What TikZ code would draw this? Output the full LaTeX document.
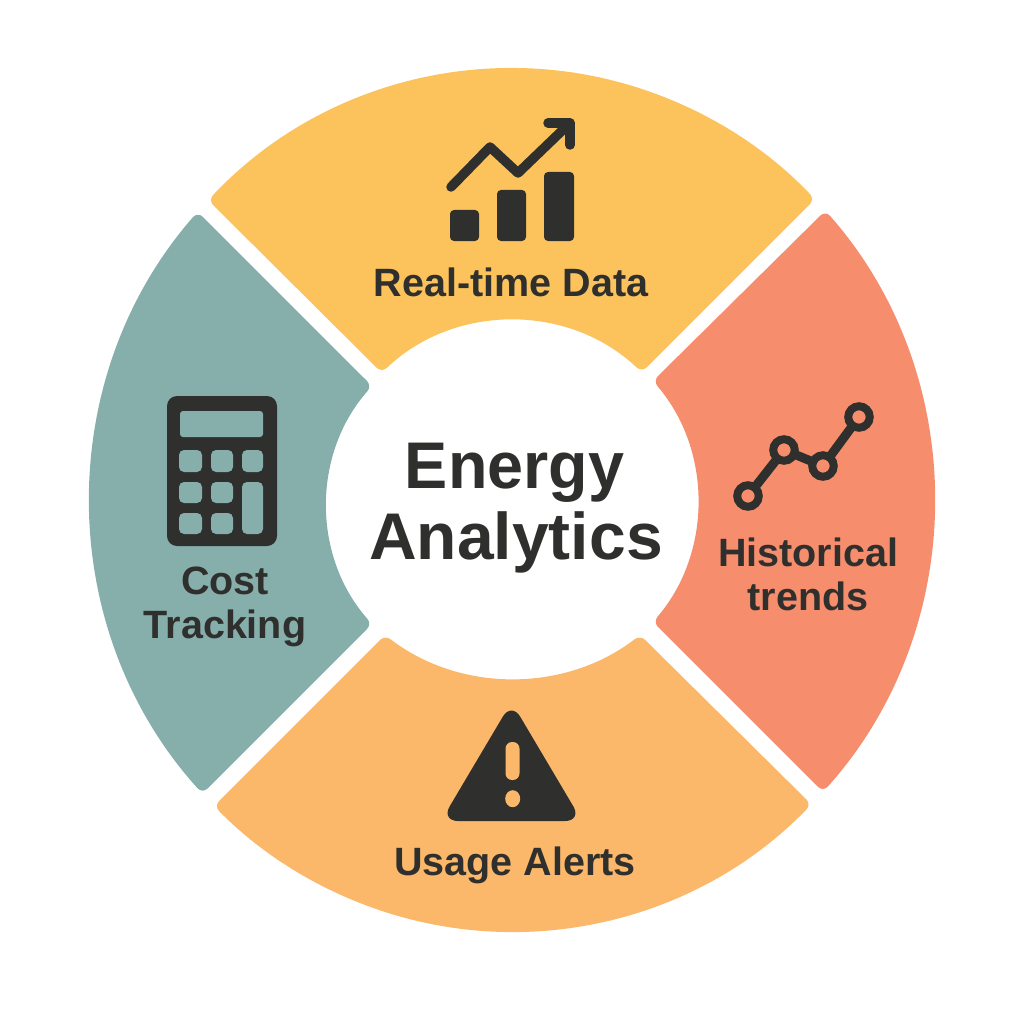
\documentclass[tikz,border=0pt]{standalone}
\usepackage{fontspec}
\setmainfont{Liberation Sans}
\definecolor{secTop}{RGB}{252,195,92}
\definecolor{secRight}{RGB}{246,141,109}
\definecolor{secBottom}{RGB}{251,184,107}
\definecolor{secLeft}{RGB}{134,175,172}
\definecolor{ink}{RGB}{47,47,45}
\tikzset{
  sector/.style={fill=#1,draw=none,rounded corners=7pt},
  titletext/.style={text=ink,font=\fontsize{66}{70}\selectfont\bfseries,align=center,inner sep=0pt},
  labeltext/.style={text=ink,font=\fontsize{39.5}{44}\selectfont\bfseries,align=center,inner sep=0pt},
  icon/.style={fill=ink,draw=none},
}
\begin{document}
\begin{tikzpicture}[x=1pt,y=-1pt]
\useasboundingbox (0,0) rectangle (1024,1024);
% sectors
\fill[sector=secTop] (208.2,200.2) arc[start angle=-136.05,end angle=-44.14,x radius=422,y radius=432]
  -- (641.7,372.3) arc[start angle=-46.5,end angle=-133.7,radius=188.5] -- cycle;
\fill[sector=secRight] (825.4,210.6) arc[start angle=-42.05,end angle=42.52,x radius=422,y radius=432]
  -- (653,622) arc[start angle=40.5,end angle=-40.5,radius=185.6] -- cycle;
\fill[sector=secBottom] (811.4,804.4) arc[start angle=44.8,end angle=134.9,x radius=422,y radius=432]
  -- (385,635) arc[start angle=127.5,end angle=52.5,radius=209.6] -- cycle;
\fill[sector=secLeft] (202.4,793.6) arc[start angle=137.19,end angle=221.86,x radius=422,y radius=432]
  -- (372,386) arc[start angle=-138.6,end angle=-221.4,radius=180] -- cycle;
% chart icon
\draw[ink,line width=9.5pt,line cap=round,line join=round] (451,187) -- (490,147) -- (518,173) -- (570,123);
\draw[ink,line width=9.5pt,line cap=round,line join=round] (548,123) -- (570,123) -- (570,145);
\fill[icon,rounded corners=4pt] (450,210) rectangle (479,241);
\fill[icon,rounded corners=4pt] (497,190) rectangle (526,241);
\fill[icon,rounded corners=4pt] (544,172) rectangle (574,241);
% calculator icon
\fill[icon,rounded corners=10pt] (167,396) rectangle (277,546);
\begin{scope}[fill=secLeft]
\fill[rounded corners=3pt] (180,411) rectangle (263,437);
\foreach \xa/\xb in {179/202,211/233,242/263}{\fill[rounded corners=5pt] (\xa,450) rectangle (\xb,472);}
\foreach \xa/\xb in {179/202,211/233}{
  \fill[rounded corners=5pt] (\xa,482) rectangle (\xb,503);
  \fill[rounded corners=5pt] (\xa,513) rectangle (\xb,534);}
\fill[rounded corners=5pt] (242,482) rectangle (263,534);
\end{scope}
% trend icon
\draw[ink,line width=9pt] (748,496) -- (784,450) -- (823,466) -- (859,417);
\foreach \cx/\cy in {748/496,784/450,823/466,859/417}{
  \draw[ink,line width=8pt,fill=secRight] (\cx,\cy) circle[radius=10.75];}
% warning icon
\fill[icon,rounded corners=17pt] (511.5,702) -- (582,821) -- (441,821) -- cycle;
\fill[secBottom,rounded corners=6.6pt] (505.5,742) rectangle (519.5,780);
\fill[secBottom] (512.7,798.7) ellipse[x radius=7.5,y radius=8.5];
% text
\node[titletext,anchor=base,xscale=0.98] (t1) at (514.5,488) {Energy};
\node[titletext,anchor=base] (t2) at (516,559) {Analytics};
\node[labeltext,anchor=base] (l1) at (511,296) {Real-time Data};
\node[labeltext] (l2) at (808,574) {Historical\\trends};
\node[labeltext] (l3) at (225,607) {Cost\\Tracking};
\node[labeltext,anchor=base] (l4) at (515,875) {Usage Alerts};
\end{tikzpicture}
\end{document}
